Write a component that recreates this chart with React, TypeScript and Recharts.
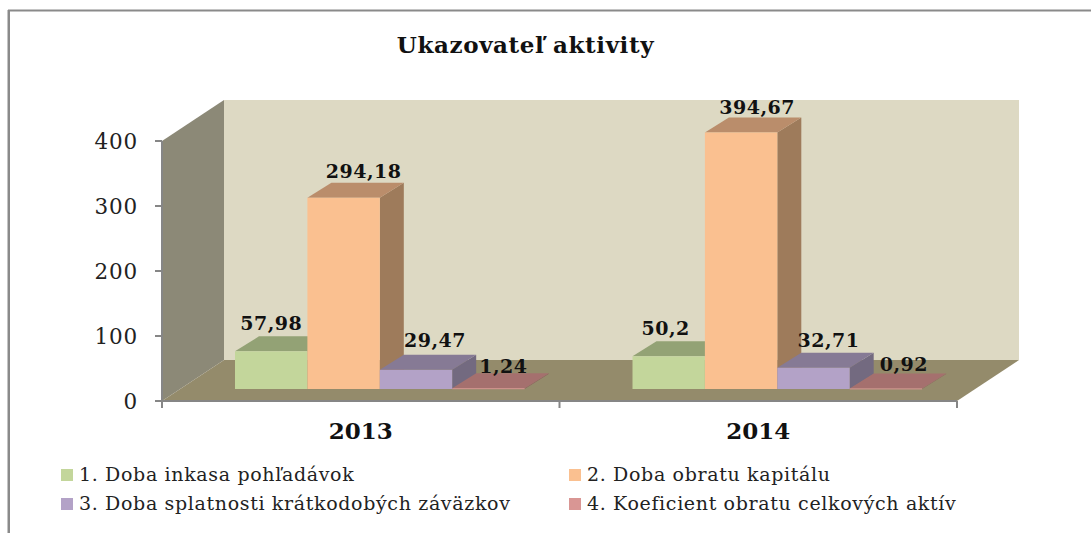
import React from "react";
import { BarChart, Bar, XAxis, YAxis, Legend, LabelList } from "recharts";

const years = ["2013", "2014"];
const seriesNames = [
  "1. Doba inkasa pohľadávok",
  "2. Doba obratu kapitálu",
  "3. Doba splatnosti krátkodobých záväzkov",
  "4. Koeficient obratu celkových aktív",
];
const inkasa = [57.98, 50.2];
const obratKapitalu = [294.18, 394.67];
const splatnost = [29.47, 32.71];
const koeficient = [1.24, 0.92];
const yTicks = [0, 100, 200, 300, 400];
const title = "Ukazovateľ aktivity";

const data = years.map((year, i) => ({
  year,
  s1: inkasa[i],
  s2: obratKapitalu[i],
  s3: splatnost[i],
  s4: koeficient[i],
}));

// layout
const W = 1091, H = 533;
const PLOT = { left: 162, right: 957, top: 141, bottom: 401 };
const WALL = { dx: 62, dy: -41 };
const BAR_SHIFT = { dx: 19, dy: -12 };
const BAR_DEPTH = { dx: 24, dy: -15 };
const SERIF = "'DejaVu Serif', serif";

const faces = [
  { front: "#C3D69B", top: "#93A275", side: "#7E8C64" },
  { front: "#FAC090", top: "#BA8D6B", side: "#9E7B5B" },
  { front: "#B3A2C7", top: "#867A95", side: "#736A80" },
  { front: "#D99694", top: "#A5706E", side: "#8E605E" },
];
// hand-placed data labels of the reference: [dx from bar centre, dy from front top to baseline]
const labelNudges = [
  [[0, -21], [-3, -21]],
  [[20, -20], [16, -18]],
  [[19, -23], [15, -21]],
  [[15, -15], [18, -17]],
];

function Walls() {
  const { left, right, top, bottom } = PLOT;
  const { dx, dy } = WALL;
  return (
    <g>
      <rect x={8} y={9.5} width={W - 8} height={2} fill="#8a8a8a" />
      <rect x={7.5} y={10} width={2.5} height={H - 10} fill="#8a8a8a" />
      <polygon points={`${left + dx},${top + dy} ${right + dx},${top + dy} ${right + dx},${bottom + dy} ${left + dx},${bottom + dy}`} fill="#DDD9C3" />
      <polygon points={`${left},${top} ${left + dx},${top + dy} ${left + dx},${bottom + dy} ${left},${bottom}`} fill="#8C8977" />
      <polygon points={`${left},${bottom} ${left + dx},${bottom + dy} ${right + dx},${bottom + dy} ${right},${bottom}`} fill="#948B6B" />
      {[left, (left + right) / 2, right].map((x) => (
        <line key={x} x1={x} x2={x} y1={bottom} y2={bottom + 7} stroke="#868686" strokeWidth={2} />
      ))}
      <text x={525.5} y={53} textAnchor="middle" fontFamily={SERIF} fontWeight="bold" fontSize={23} letterSpacing={0.6} fill="#111">
        {title}
      </text>
    </g>
  );
}

function bar3d(seriesIndex: number) {
  return (props: any) => {
    const { x, y, width, height } = props;
    const c = faces[seriesIndex];
    const fx = x + BAR_SHIFT.dx, fy = y + BAR_SHIFT.dy, d = BAR_DEPTH;
    const r = fx + width, b = fy + height;
    return (
      <g>
        <polygon points={`${r},${fy} ${r + d.dx},${fy + d.dy} ${r + d.dx},${b + d.dy} ${r},${b}`} fill={c.side} />
        <polygon points={`${fx},${fy} ${fx + d.dx},${fy + d.dy} ${r + d.dx},${fy + d.dy} ${r},${fy}`} fill={c.top} />
        <rect x={fx} y={fy} width={width} height={Math.max(height, 1)} fill={c.front} />
      </g>
    );
  };
}

function barLabel(seriesIndex: number) {
  return (props: any) => {
    const { x, y, width, value, index } = props;
    const [ndx, ndy] = labelNudges[seriesIndex][index];
    return (
      <text
        x={x + BAR_SHIFT.dx + width / 2 + ndx}
        y={y + BAR_SHIFT.dy + ndy}
        textAnchor="middle"
        fontFamily={SERIF}
        fontWeight="bold"
        fontSize={19}
        letterSpacing={0.5}
        fill="#111"
      >
        {String(value).replace(".", ",")}
      </text>
    );
  };
}

const legendSlots = [
  { swatch: 61, text: 79, y: 475 },
  { swatch: 569, text: 587, y: 475 },
  { swatch: 61, text: 79, y: 504 },
  { swatch: 569, text: 587, y: 504 },
];

function LegendContent({ payload }: any) {
  return (
    <div style={{ position: "relative", height: 0 }}>
      {(payload || []).map((p: any, i: number) => (
        <React.Fragment key={i}>
          <span style={{ position: "absolute", left: legendSlots[i].swatch, top: legendSlots[i].y - 6, width: 12, height: 12, background: p.color }} />
          <span style={{ position: "absolute", left: legendSlots[i].text, top: legendSlots[i].y - 13, lineHeight: "24px", whiteSpace: "nowrap", fontFamily: SERIF, fontSize: 19, color: "#222", letterSpacing: 0.65 }}>
            {p.value}
          </span>
        </React.Fragment>
      ))}
    </div>
  );
}

const keys = ["s1", "s2", "s3", "s4"];

export default function App() {
  return (
    <div style={{ position: "absolute", left: 0, top: 0, width: W, height: H }}>
      <BarChart
        width={W}
        height={H}
        data={data}
        margin={{ left: 0, right: W - PLOT.right, top: PLOT.top, bottom: 92 }}
        barSize={72.4}
        barGap={0}
      >
        <Walls />
        <XAxis
          dataKey="year"
          height={40}
          tickLine={false}
          axisLine={{ stroke: "#868686", strokeWidth: 2 }}
          tickMargin={16}
          tick={{ fontFamily: SERIF, fontWeight: "bold", fontSize: 23, fill: "#111" }}
        />
        <YAxis
          width={PLOT.left}
          domain={[0, 400]}
          ticks={yTicks}
          tickSize={7}
          tickMargin={17}
          tickLine={{ stroke: "#868686", strokeWidth: 2 }}
          axisLine={{ stroke: "#868686", strokeWidth: 2 }}
          tick={{ fontFamily: SERIF, fontSize: 21.5, letterSpacing: 0.8, fill: "#222" }}
        />
        {keys.map((k, i) => (
          <Bar key={k} dataKey={k} name={seriesNames[i]} fill={faces[i].front} shape={bar3d(i)} isAnimationActive={false}>
            <LabelList dataKey={k} content={barLabel(i)} />
          </Bar>
        ))}
        <Legend content={<LegendContent />} wrapperStyle={{ left: 0, top: 0, width: W, height: 0 }} />
      </BarChart>
    </div>
  );
}
